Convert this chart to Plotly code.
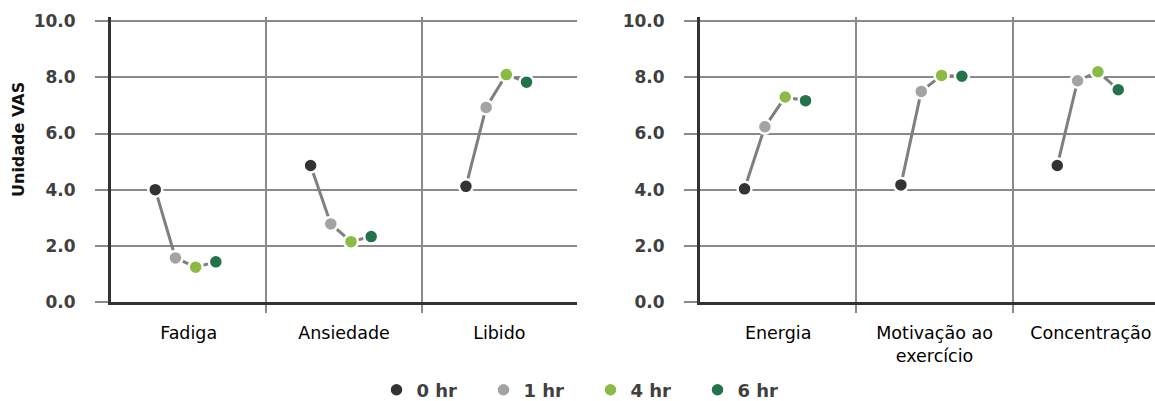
import plotly.graph_objects as go

# ---- data ----
categories_left = ["Fadiga", "Ansiedade", "Libido"]
categories_right = ["Energia", "Motivação ao<br>exercício", "Concentração"]
times = ["0 hr", "1 hr", "4 hr", "6 hr"]

fadiga = [4.0, 1.57, 1.24, 1.43]
ansiedade = [4.86, 2.78, 2.15, 2.33]
libido = [4.12, 6.93, 8.10, 7.83]
energia = [4.03, 6.24, 7.30, 7.17]
motivacao = [4.17, 7.50, 8.07, 8.04]
concentracao = [4.86, 7.88, 8.20, 7.56]

values_left = [fadiga, ansiedade, libido]
values_right = [energia, motivacao, concentracao]

time_colors = ["#333333", "#a3a3a3", "#8cbb45", "#22734a"]
offsets = [-0.215, -0.085, 0.045, 0.175]

FONT = "DejaVu Sans"
# figure is a little taller than the 401px window so the legend box never
# forces plotly to enlarge the bottom margin (the extra rows are blank)
W, H = 1155, 416
MT = 17
MB = H - 302
PH = H - MT - MB

fig = go.Figure()

panels = [("x", "y", values_left), ("x2", "y2", values_right)]
for pi, (xa, ya, vals) in enumerate(panels):
    lx, ly = [], []
    for ci, row in enumerate(vals):
        for j, v in enumerate(row):
            lx.append(ci + offsets[j])
            ly.append(v)
        lx.append(None)
        ly.append(None)
    fig.add_trace(go.Scatter(x=lx, y=ly, mode="lines",
                             line=dict(color="#7f7f7f", width=3),
                             showlegend=False, hoverinfo="skip",
                             xaxis=xa, yaxis=ya))
    for j, t in enumerate(times):
        fig.add_trace(go.Scatter(
            x=[ci + offsets[j] for ci in range(len(vals))],
            y=[row[j] for row in vals],
            mode="markers", name=t,
            marker=dict(color=time_colors[j], size=14,
                        line=dict(color="white", width=2.5)),
            showlegend=(pi == 0), legendgroup=t,
            xaxis=xa, yaxis=ya))

grid = "#8a8a8a"
common_y = dict(range=[0, 10.15], tickvals=[0, 2, 4, 6, 8, 10], tickformat=".1f",
                showgrid=True, gridcolor=grid, gridwidth=1.5,
                ticks="outside", ticklen=13, tickcolor=grid, tickwidth=1.5,
                showline=True, linecolor="#333333", linewidth=3,
                zeroline=False, automargin=False, ticklabelstandoff=16,
                tickfont=dict(family=FONT, size=17, color="#404040", weight="bold"))
common_x = dict(tickvals=[0, 1, 2], showgrid=False, zeroline=False,
                ticks="", showline=True, linecolor="#333333", linewidth=3,
                automargin=False, ticklabelstandoff=13,
                tickfont=dict(family=FONT, size=17.5, color="#000000"),
                minor=dict(tickmode="array", tickvals=[0.5, 1.5], ticks="outside",
                           ticklen=8, tickcolor=grid, tickwidth=1.5,
                           showgrid=True, gridcolor=grid, gridwidth=1.5))

fig.update_layout(
    width=W, height=H,
    margin=dict(l=0, r=0, t=MT, b=MB),
    plot_bgcolor="white", paper_bgcolor="white",
    xaxis=dict(common_x, domain=[111 / W, 577 / W], range=[-0.5, 2.5],
               ticktext=categories_left, anchor="y"),
    yaxis=dict(common_y, domain=[0, 1], anchor="x"),
    xaxis2=dict(common_x, domain=[700 / W, 1.0], range=[-0.5, 2.41],
                ticktext=categories_right, anchor="y2"),
    yaxis2=dict(common_y, domain=[0, 1], anchor="x2"),
    legend=dict(orientation="h", x=0.5 + 13 / W, xanchor="center",
                y=(302 - 390) / PH, yanchor="middle",
                font=dict(family=FONT, size=18, color="#404040", weight="bold"),
                entrywidth=62, entrywidthmode="pixels",
                bgcolor="rgba(0,0,0,0)"),
    annotations=[dict(text="<b>Unidade VAS</b>", textangle=-90,
                      x=18 / W, y=(302 - 140) / PH,
                      xref="paper", yref="paper", showarrow=False,
                      xanchor="center", yanchor="middle",
                      font=dict(family=FONT, size=16, color="#111111"))],
)

fig.write_html("out.html",
               config={"displayModeBar": False},
               post_script="document.body.style.margin='0';"
                           "document.body.style.overflow='hidden';")
